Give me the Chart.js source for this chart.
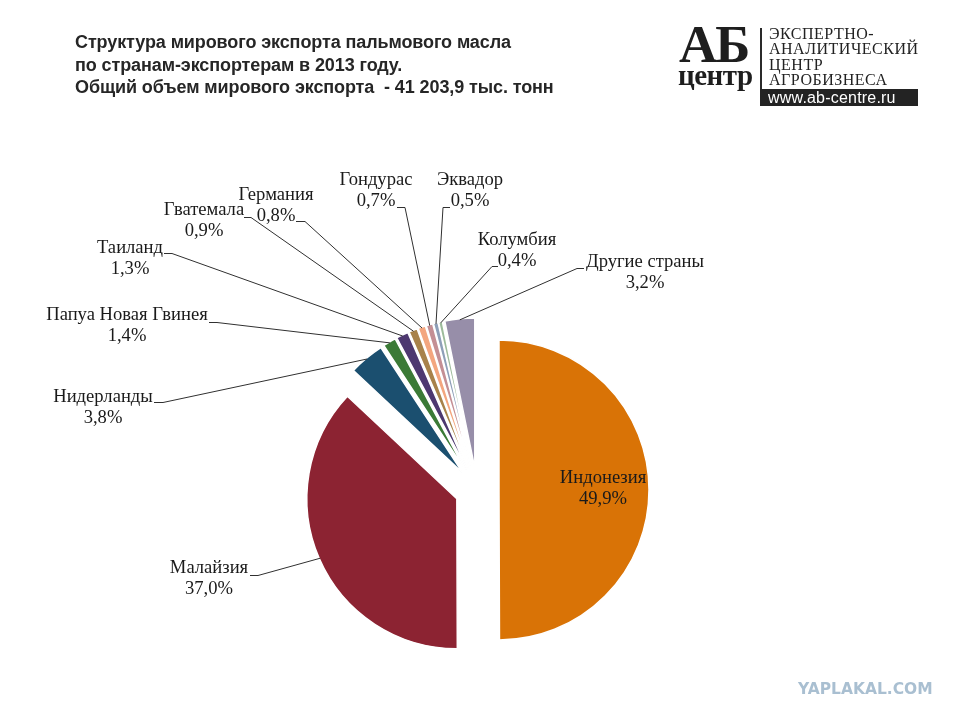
<!DOCTYPE html>
<html lang="ru">
<head>
<meta charset="utf-8">
<title>Структура мирового экспорта пальмового масла</title>
<script src="https://cdn.jsdelivr.net/npm/chart.js@4.4.1/dist/chart.umd.min.js"></script>
<style>
    html, body { margin: 0; padding: 0; background: #fff; }
    #wrap { position: relative; width: 960px; height: 720px; overflow: hidden; }
    #grafico { position: absolute; left: 0; top: 0; }
    .titulo {
        position: absolute; left: 75px; top: 31px;
        font: bold 18px "Liberation Sans", Arial, sans-serif;
        line-height: 22.5px; color: #262626; letter-spacing: -0.1px;
        white-space: nowrap;
    }
    .logo-ab {
        position: absolute; left: 679px; top: 14px;
        font: bold 53px "Liberation Serif", "Times New Roman", serif;
        line-height: 60px; color: #1e1e1e; letter-spacing: -2px;
    }
    .logo-centr {
        position: absolute; left: 678px; top: 58px;
        font: bold 29px "Liberation Serif", "Times New Roman", serif;
        line-height: 34px; color: #1e1e1e; letter-spacing: -0.5px;
    }
    .logo-linha { position: absolute; left: 760px; top: 28px; width: 2px; height: 72px; background: #2a2a2a; }
    .logo-texto {
        position: absolute; left: 769px; top: 26px;
        font: 16px "Liberation Serif", "Times New Roman", serif;
        line-height: 15.3px; color: #222; letter-spacing: 0.5px;
        white-space: nowrap;
    }
    .logo-site {
        position: absolute; left: 760px; top: 89px; width: 158px; height: 17px;
        background: #232323; color: #fff;
        font: 16px "Liberation Sans", Arial, sans-serif; line-height: 17px;
        padding-left: 8px; box-sizing: border-box; letter-spacing: 0.2px;
    }
    .marca {
        position: absolute; left: 798px; top: 680px;
        font: bold 15.5px "DejaVu Sans", "Liberation Sans", sans-serif;
        color: #a9bfd1; letter-spacing: 0px;
    }
</style>
</head>
<body>
<div id="wrap">
    <canvas id="grafico" width="960" height="720"></canvas>

    <div class="titulo">
        Структура мирового экспорта пальмового масла<br>
        по странам-экспортерам в 2013 году.<br>
        Общий объем мирового экспорта&nbsp; - 41 203,9 тыс. тонн
    </div>

    <div class="logo-ab">АБ</div>
    <div class="logo-centr">центр</div>
    <div class="logo-linha"></div>
    <div class="logo-texto">ЭКСПЕРТНО-<br>АНАЛИТИЧЕСКИЙ<br>ЦЕНТР<br>АГРОБИЗНЕСА</div>
    <div class="logo-site">www.ab-centre.ru</div>

    <div class="marca">YAPLAKAL.COM</div>
</div>

<script>
// países exportadores (ordem do gráfico, sentido horário a partir do topo)
const paises = [
    'Индонезия',
    'Малайзия',
    'Нидерланды',
    'Папуа Новая Гвинея',
    'Таиланд',
    'Гватемала',
    'Германия',
    'Гондурас',
    'Эквадор',
    'Колумбия',
    'Другие страны'
];

// participação no export mundial, %
const participacao = [49.9, 37.0, 3.8, 1.4, 1.3, 0.9, 0.8, 0.7, 0.5, 0.4, 3.2];

const cores = [
    '#d97306',
    '#8c2332',
    '#1b4f6f',
    '#3b7a36',
    '#4d3870',
    '#a8824a',
    '#f3a67f',
    '#c48f94',
    '#8e9fb8',
    '#9dbb9b',
    '#978ea9'
];

// posição dos rótulos: centro do texto (x), linha de base (y) e início da linha guia
const layoutRotulos = [
    { x: 603, y: 483 },
    { x: 209, y: 573, guia: [250, 575, 258] },
    { x: 103, y: 402, guia: [154, 402, 163] },
    { x: 127, y: 320, guia: [209, 322, 217] },
    { x: 130, y: 253, guia: [164, 253, 172] },
    { x: 204, y: 215, guia: [244, 217, 251] },
    { x: 276, y: 200, guia: [296, 221, 305] },
    { x: 376, y: 185, guia: [397, 207, 405] },
    { x: 470, y: 185, guia: [450, 207, 443] },
    { x: 517, y: 245, guia: [498, 266, 492] },
    { x: 645, y: 267, guia: [584, 268, 577] }
];

const explosao = 22;   // deslocamento das fatias, px

function formatarPerc(v) {
    return v.toFixed(1).replace('.', ',') + '%';
}

// desloca cada fatia para fora ao longo do ângulo médio
const pluginExplosao = {
    id: 'explosao',
    afterDatasetsUpdate(chart) {
        chart.getDatasetMeta(0).data.forEach(arc => {
            const meio = (arc.startAngle + arc.endAngle) / 2;
            arc.x += Math.cos(meio) * explosao;
            arc.y += Math.sin(meio) * explosao;
        });
    }
};

// rótulos com linhas guia
const pluginRotulos = {
    id: 'rotulos',
    afterDatasetsDraw(chart) {
        const ctx = chart.ctx;
        const arcos = chart.getDatasetMeta(0).data;
        ctx.save();

        arcos.forEach((arc, i) => {
            const lay = layoutRotulos[i];
            if (lay.guia) {
                const meio = (arc.startAngle + arc.endAngle) / 2;
                const r = arc.outerRadius - 1;
                const px = arc.x + Math.cos(meio) * r;
                const py = arc.y + Math.sin(meio) * r;
                ctx.beginPath();
                ctx.strokeStyle = '#303030';
                ctx.lineWidth = 1;
                ctx.moveTo(lay.guia[0], lay.guia[1] + 0.5);
                ctx.lineTo(lay.guia[2], lay.guia[1] + 0.5);
                ctx.lineTo(px, py);
                ctx.stroke();
            }
        });

        ctx.fillStyle = '#1a1a1a';
        ctx.font = '18.6px "Liberation Serif", "Times New Roman", serif';
        ctx.textAlign = 'center';
        ctx.textBaseline = 'alphabetic';
        arcos.forEach((arc, i) => {
            const lay = layoutRotulos[i];
            ctx.fillText(paises[i], lay.x, lay.y);
            ctx.fillText(formatarPerc(participacao[i]), lay.x, lay.y + 21);
        });

        ctx.restore();
    }
};

const grafico = new Chart(document.getElementById('grafico'), {
    type: 'pie',
    data: {
        labels: paises,
        datasets: [{
            data: participacao,
            backgroundColor: cores,
            borderColor: '#ffffff',
            borderWidth: 1.5,
            radius: 150
        }]
    },
    options: {
        responsive: false,
        animation: false,
        events: [],
        layout: {
            padding: { left: 0, right: 6, top: 260, bottom: 0 }
        },
        plugins: {
            legend: { display: false },
            tooltip: { enabled: false },
            title: { display: false }
        }
    },
    plugins: [pluginExplosao, pluginRotulos]
});
</script>
</body>
</html>
